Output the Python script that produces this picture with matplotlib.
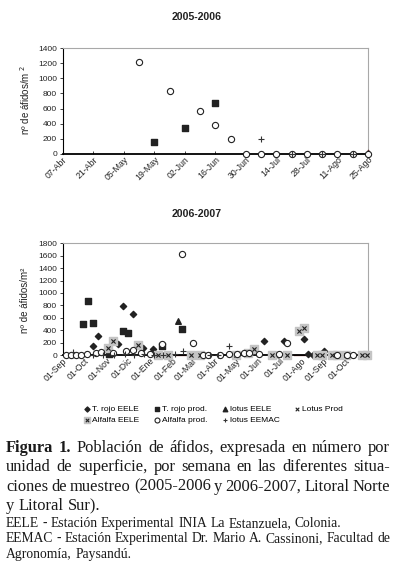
import numpy as np
import matplotlib
matplotlib.use("Agg")
import matplotlib.pyplot as plt
import matplotlib.dates as mdates
import pandas as pd

plt.rcParams['font.family'] = ['Liberation Sans', 'DejaVu Sans']

# -------- DATA 2005-2006 --------
alf_prod_05_dates = ['2006-05-12', '2006-05-26', '2006-06-09', '2006-06-16', '2006-06-23',
                     '2006-06-30', '2006-07-07', '2006-07-14', '2006-07-21', '2006-07-28',
                     '2006-08-04', '2006-08-11', '2006-08-18', '2006-08-25']
alf_prod_05_vals = [1220, 830, 565, 380, 200, 0, 0, 0, 0, 0, 0, 0, 0, 0]
trojo_prod_05_dates = ['2006-05-19', '2006-06-02', '2006-06-16']
trojo_prod_05_vals = [160, 340, 680]
eemac_05_dates = ['2006-07-07', '2006-07-21', '2006-08-04', '2006-08-18']
eemac_05_vals = [190, 0, 0, 0]
lotus_eele_05_dates = ['2006-08-25']
lotus_eele_05_vals = [25]

# -------- DATA 2006-2007 --------
trojo_eele_dates = ['2006-10-13', '2006-10-21', '2006-11-18', '2006-11-25', '2006-12-09',
                    '2006-12-23', '2007-01-05', '2007-06-09', '2007-07-07', '2007-08-04',
                    '2007-08-10', '2007-09-01', '2007-08-17']
trojo_eele_vals = [150, 300, 170, 790, 660, 120, 90, 220, 220, 250, 10, 70, 0]
trojo_prod_dates = ['2006-09-29', '2006-10-07', '2006-10-14', '2006-11-05', '2006-11-25',
                    '2006-12-02', '2007-01-18', '2007-02-15']
trojo_prod_vals = [500, 870, 520, 20, 380, 350, 150, 420]
lotus_eele_dates = ['2007-02-09']
lotus_eele_vals = [540]
lotus_prod_dates = ['2007-03-05', '2007-04-24', '2007-06-30', '2007-08-24', '2007-10-25']
lotus_prod_vals = [0, 0, 0, 0, 0]
alf_eele_dates = ['2006-11-03', '2006-11-10', '2006-12-16', '2007-01-12', '2007-01-26',
                  '2007-02-27', '2007-03-12', '2007-05-01', '2007-05-18', '2007-05-27',
                  '2007-06-21', '2007-07-12', '2007-07-28', '2007-08-04', '2007-08-23',
                  '2007-08-30', '2007-09-13', '2007-09-20', '2007-10-02', '2007-10-24',
                  '2007-11-01']
alf_eele_vals = [110, 220, 160, 0, 0, 0, 0, 0, 40, 100, 0, 0, 390, 440, 0, 0, 0, 0, 0, 0, 0]
alf_prod_dates = ['2006-09-06', '2006-09-13', '2006-09-20', '2006-09-27', '2006-10-05',
                  '2006-10-18', '2006-10-25', '2006-11-10', '2006-11-29', '2006-12-08',
                  '2006-12-20', '2007-01-01', '2007-01-18', '2007-02-15', '2007-03-02',
                  '2007-03-16', '2007-03-23', '2007-04-09', '2007-04-21', '2007-05-03',
                  '2007-05-12', '2007-05-20', '2007-06-02', '2007-06-30', '2007-07-12',
                  '2007-09-19', '2007-10-03', '2007-10-12']
alf_prod_vals = [0, 0, 0, 0, 20, 40, 50, 40, 60, 80, 30, 20, 180, 1620, 190,
                 0, 0, 0, 10, 20, 30, 40, 20, 10, 200, 0, 0, 0]
eemac_dates = ['2006-09-15', '2006-10-13', '2006-10-27', '2006-11-12', '2006-11-27',
               '2006-12-10', '2006-12-24', '2007-01-07', '2007-01-19', '2007-02-05',
               '2007-02-16', '2007-03-26', '2007-04-06', '2007-04-21']
eemac_vals = [50, 0, 0, 0, 20, 0, 10, 0, 0, 20, 70, 0, 0, 150]
red_run1_dates = ['2007-02-05', '2007-02-24']
red_run2_dates = ['2007-07-21', '2007-08-10']

meses = ['Ene', 'Feb', 'Mar', 'Abr', 'May', 'Jun', 'Jul', 'Ago', 'Sep', 'Oct', 'Nov', 'Dic']


def d(lst):
    return pd.to_datetime(lst)


def fmt_date(x, pos=None):
    dt = mdates.num2date(x)
    return f"{dt.day:02d}-{meses[dt.month - 1]}"


def style_axes(ax, ymax):
    ax.set_ylim(0, ymax)
    ax.set_yticks(np.arange(0, ymax + 1, 200))
    for s in ['top', 'right']:
        ax.spines[s].set_color('#a8a8a8')
        ax.spines[s].set_linewidth(0.8)
    ax.spines['left'].set_linewidth(0.8)
    ax.spines['bottom'].set_linewidth(1.3)
    ax.tick_params(axis='y', labelsize=6, length=2, width=0.6, pad=2, colors='#222222')
    ax.tick_params(axis='x', labelsize=6.3, length=2, width=0.6, pad=1, colors='#222222',
                   direction='in')
    ax.xaxis.set_major_formatter(plt.FuncFormatter(fmt_date))
    for lab in ax.get_xticklabels():
        lab.set_rotation(45)
        lab.set_ha('right')
        lab.set_rotation_mode('anchor')


fig = plt.figure(figsize=(3.99, 5.64), dpi=100)
W, H = 399, 564
ax1 = fig.add_axes([62.7 / W, 1 - 153.7 / H, (368 - 62.7) / W, 105.4 / H])
ax2 = fig.add_axes([62.7 / W, 1 - 355 / H, (368 - 62.7) / W, 111.7 / H])

mk = dict(clip_on=False, linewidths=0.8)

# -------- TOP CHART --------
ax1.scatter(d(trojo_prod_05_dates), trojo_prod_05_vals, marker='s', s=14, color='#222222',
            zorder=3, clip_on=False)
ax1.scatter(d(lotus_eele_05_dates), lotus_eele_05_vals, marker='^', s=10, color='#5a2020',
            zorder=3, clip_on=False)
ax1.scatter(d(alf_prod_05_dates), alf_prod_05_vals, marker='o', s=20, facecolor='white',
            edgecolor='#222222', zorder=4, **mk)
ax1.scatter(d(eemac_05_dates), eemac_05_vals, marker='+', s=14, color='#333333', zorder=5,
            **mk)
ticks1 = pd.date_range('2006-04-07', '2006-08-25', freq='14D')
ax1.set_xlim(ticks1[0], ticks1[-1])
ax1.set_xticks(ticks1)
style_axes(ax1, 1400)

# -------- BOTTOM CHART --------
ax2.plot(d(red_run1_dates), [0, 0], color='#7a1a1a', lw=0.9, zorder=2, clip_on=False)
ax2.plot(d(red_run2_dates), [0, 0], color='#7a1a1a', lw=0.9, zorder=2, clip_on=False)
h1 = ax2.scatter(d(trojo_eele_dates), trojo_eele_vals, marker='D', s=10, color='#222222',
                 zorder=3, clip_on=False, label='T. rojo EELE')
h2 = ax2.scatter(d(trojo_prod_dates), trojo_prod_vals, marker='s', s=14, color='#222222',
                 zorder=3, clip_on=False, label='T. rojo prod.')
h3 = ax2.scatter(d(lotus_eele_dates), lotus_eele_vals, marker='^', s=16, color='#222222',
                 zorder=3, clip_on=False, label='lotus EELE')
h4 = ax2.scatter(d(lotus_prod_dates), lotus_prod_vals, marker='x', s=10, color='#222222',
                 zorder=3, label='Lotus Prod', **mk)
h5a = ax2.scatter(d(alf_eele_dates), alf_eele_vals, marker='s', s=26, color='#c4c4c4',
                  zorder=3, clip_on=False)
h5b = ax2.scatter(d(alf_eele_dates), alf_eele_vals, marker='x', s=9, color='#222222',
                  zorder=3, **mk)
h6 = ax2.scatter(d(alf_prod_dates), alf_prod_vals, marker='o', s=20, facecolor='white',
                 edgecolor='#222222', zorder=4, label='Alfalfa prod.', **mk)
h7 = ax2.scatter(d(eemac_dates), eemac_vals, marker='+', s=14, color='#333333', zorder=5,
                 label='lotus EEMAC', **mk)
ticks2 = pd.date_range('2006-09-01', '2007-10-01', freq='MS')
ax2.set_xlim(pd.Timestamp('2006-09-01'), pd.Timestamp('2007-11-02'))
ax2.set_xticks(ticks2)
style_axes(ax2, 1800)
ax2.tick_params(axis='x', length=0)

# titles and y labels
fig.text(197 / W, 1 - 16.7 / H, '2005-2006', ha='center', va='center', fontsize=7.6,
         fontweight='bold', color='#222222')
fig.text(197 / W, 1 - 214 / H, '2006-2007', ha='center', va='center', fontsize=7.6,
         fontweight='bold', color='#222222')
fig.text(25 / W, 1 - 100 / H, 'nº de áfidos/m $^{2}$', rotation=90, ha='center', va='center',
         fontsize=7, color='#222222')
fig.text(25 / W, 1 - 300 / H, 'nº de áfidos/m²', rotation=90, ha='center', va='center',
         fontsize=7, color='#222222')

handles = [h1, (h5a, h5b), h2, h6, h3, h7, h4]
labels = ['T. rojo EELE', 'Alfalfa EELE', 'T. rojo prod.', 'Alfalfa prod.', 'lotus EELE',
          'lotus EEMAC', 'Lotus Prod']
fig.legend(handles, labels, ncol=4, loc='upper left', bbox_to_anchor=(83 / W, 1 - 405 / H),
           frameon=False, fontsize=6, handletextpad=0.1, columnspacing=1.6, labelspacing=0.45,
           handlelength=1.0, borderaxespad=0, borderpad=0, markerscale=0.8)

# -------- CAPTION (justified) --------
caption_big = [
    [('Figura', 'bold'), ('1.', 'bold'), ('Población', 'normal'), ('de', 'normal'),
     ('áfidos,', 'normal'), ('expresada', 'normal'), ('en', 'normal'), ('número', 'normal'),
     ('por', 'normal')],
    'unidad de superficie, por semana en las diferentes situa-',
    'ciones de muestreo (2005-2006 y 2006-2007, Litoral Norte',
    'y Litoral Sur).',
]
caption_small = [
    'EELE - Estación Experimental INIA La Estanzuela, Colonia.',
    'EEMAC - Estación Experimental Dr. Mario A. Cassinoni, Facultad de',
    'Agronomía, Paysandú.',
]
big_baselines = [451.7, 471.3, 490.8, 510.2]
small_baselines = [526.7, 542.3, 557.7]
big_justify = [True, True, True, False]
small_justify = [False, True, False]

renderer = fig.canvas.get_renderer()
x_left, x_right = 6, 390


def place_line(line, y_px, size, justify):
    if isinstance(line, str):
        words = [(w, 'normal') for w in line.split()]
    else:
        words = line
    texts = []
    widths = []
    for w, wt in words:
        t = fig.text(0, 1 - y_px / H, w, fontsize=size, fontweight=wt, va='baseline',
                     ha='left', family=['Liberation Serif', 'DejaVu Serif'], color='#1a1a1a')
        widths.append(t.get_window_extent(renderer).width)
        texts.append(t)
    if justify and len(words) > 1:
        gap = (x_right - x_left - sum(widths)) / (len(words) - 1)
    else:
        gap = size * 100 / 72 * 0.25
    x = x_left
    for t, wd in zip(texts, widths):
        t.set_x(x / W)
        x += wd + gap


for line, y, j in zip(caption_big, big_baselines, big_justify):
    place_line(line, y, 11.9, j)
for line, y, j in zip(caption_small, small_baselines, small_justify):
    place_line(line, y, 9.8, j)

fig.savefig('out.png', dpi=100)
